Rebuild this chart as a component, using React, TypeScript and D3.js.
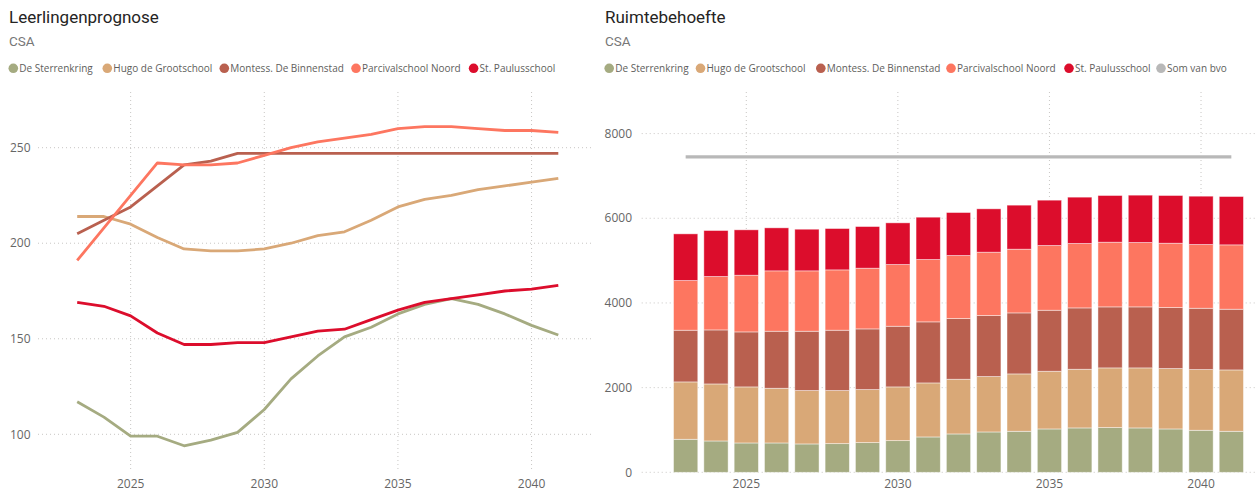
import React from "react";
import * as d3 from "d3";

const years = [2023, 2024, 2025, 2026, 2027, 2028, 2029, 2030, 2031, 2032, 2033, 2034, 2035, 2036, 2037, 2038, 2039, 2040, 2041];
const schools = ["De Sterrenkring", "Hugo de Grootschool", "Montess. De Binnenstad", "Parcivalschool Noord", "St. Paulusschool"];
const colors = ["#A5AB81", "#D9A877", "#B9604F", "#FD7660", "#DC0D2C"];
const bvoLabel = "Som van bvo";
const bvoColor = "#B8B8B8";

// Leerlingenprognose (students)
const lSterrenkring = [117, 109, 99, 99, 94, 97, 101, 113, 129, 141, 151, 156, 163, 168, 171, 168, 163, 157, 152];
const lHugo = [214, 214, 210, 203, 197, 196, 196, 197, 200, 204, 206, 212, 219, 223, 225, 228, 230, 232, 234];
const lMontess = [205, 212, 219, 230, 241, 243, 247, 247, 247, 247, 247, 247, 247, 247, 247, 247, 247, 247, 247];
const lParcival = [191, 208, 225, 242, 241, 241, 242, 246, 250, 253, 255, 257, 260, 261, 261, 260, 259, 259, 258];
const lPaulus = [169, 167, 162, 153, 147, 147, 148, 148, 151, 154, 155, 160, 165, 169, 171, 173, 175, 176, 178];

// Ruimtebehoefte (space need)
const rSterrenkring = [780, 740, 693, 693, 670, 677, 701, 748, 835, 906, 953, 969, 1024, 1048, 1056, 1048, 1024, 993, 969];
const rHugo = [1355, 1347, 1324, 1292, 1260, 1253, 1252, 1269, 1276, 1292, 1308, 1355, 1363, 1386, 1410, 1418, 1426, 1433, 1449];
const rMontess = [1221, 1276, 1299, 1347, 1402, 1426, 1434, 1433, 1442, 1433, 1441, 1441, 1441, 1449, 1441, 1441, 1441, 1449, 1434];
const rParcival = [1173, 1261, 1339, 1426, 1426, 1425, 1434, 1457, 1472, 1489, 1497, 1505, 1528, 1521, 1528, 1520, 1520, 1505, 1520];
const rPaulus = [1103, 1087, 1072, 1016, 984, 977, 984, 985, 1001, 1016, 1024, 1040, 1072, 1095, 1103, 1119, 1127, 1142, 1142];
const bvo = [7450, 7450, 7450, 7450, 7450, 7450, 7450, 7450, 7450, 7450, 7450, 7450, 7450, 7450, 7450, 7450, 7450, 7450, 7450];

const leftTicksY = [100, 150, 200, 250];
const rightTicksY = [0, 2000, 4000, 6000, 8000];
const ticksX = [2025, 2030, 2035, 2040];

const FONT = "'Open Sans', 'Noto Sans', sans-serif";
const TITLE_FONT = "Roboto, 'Noto Sans', sans-serif";
const GRID = "#C8C6C4";
const LABEL = "#666666";

function Legend({ x0s, labels, cols, y }: { x0s: number[]; labels: string[]; cols: string[]; y: number }) {
  return (
    <g>
      {labels.map((l, i) => (
        <g key={l}>
          <circle cx={x0s[i]} cy={y} r={4.8} fill={cols[i]} />
          <text x={x0s[i] + 6} y={y} dy="0.35em" fontSize={10} fontFamily={FONT} fill="#605E5C">
            {l}
          </text>
        </g>
      ))}
    </g>
  );
}

export default function App() {
  const W = 1257;
  const H = 493;

  // Left chart scales
  const xL = d3.scaleLinear().domain([2023, 2041]).range([77.2, 558.3]);
  const yL = d3.scaleLinear().domain([100, 250]).range([434.3, 147.7]);
  const lineSeries = [lSterrenkring, lHugo, lMontess, lParcival, lPaulus];
  const line = d3
    .line<number>()
    .x((_, i) => xL(years[i]))
    .y((d) => yL(d))
    .curve(d3.curveLinear);

  // Right chart scales
  const xR = d3.scaleBand<number>().domain(years).range([670.5, 1246.5]).paddingInner(0.2).paddingOuter(0.1);
  const yR = d3.scaleLinear().domain([0, 8000]).range([472.3, 133.6]);
  const rows = years.map((yr, i) => ({
    year: yr,
    s0: rSterrenkring[i],
    s1: rHugo[i],
    s2: rMontess[i],
    s3: rParcival[i],
    s4: rPaulus[i],
  }));
  const stacked = d3.stack<any>().keys(["s0", "s1", "s2", "s3", "s4"])(rows);
  const bvoLine = d3
    .line<number>()
    .x((_, i) => (xR(years[i]) as number) + xR.bandwidth() / 2)
    .y((d) => yR(d));

  const gridTop = 92;

  return (
    <svg width={W} height={H} style={{ position: "absolute", left: 0, top: 0, background: "#fff" }}>
      {/* Left panel header */}
      <text x={9} y={17.5} dy="0.35em" fontSize={17} fontFamily={TITLE_FONT} fill="#252423">
        Leerlingenprognose
      </text>
      <text x={9} y={41.5} dy="0.35em" fontSize={13.5} fontFamily={TITLE_FONT} fill="#777">
        CSA
      </text>
      <Legend x0s={[13.3, 107.3, 224.3, 356, 473.6]} labels={schools} cols={colors} y={68.3} />

      {/* Left gridlines */}
      {leftTicksY.map((t) => (
        <line key={"lgy" + t} x1={38} x2={594} y1={yL(t)} y2={yL(t)} stroke={GRID} strokeDasharray="1 3" />
      ))}
      {ticksX.map((t) => (
        <line key={"lgx" + t} x1={xL(t)} x2={xL(t)} y1={gridTop} y2={472} stroke={GRID} strokeDasharray="1 3" />
      ))}
      {leftTicksY.map((t) => (
        <text key={"lty" + t} x={30.5} y={yL(t)} dy="0.35em" textAnchor="end" fontSize={12} fontFamily={FONT} fill={LABEL}>
          {t}
        </text>
      ))}
      {ticksX.map((t) => (
        <text key={"ltx" + t} x={xL(t)} y={483.5} dy="0.35em" textAnchor="middle" fontSize={12} fontFamily={FONT} fill={LABEL}>
          {t}
        </text>
      ))}
      {lineSeries.map((s, i) => (
        <path key={"ls" + i} d={line(s) || ""} fill="none" stroke={colors[i]} strokeWidth={2.8} strokeLinejoin="round" />
      ))}

      {/* Right panel header */}
      <text x={605} y={17.5} dy="0.35em" fontSize={17} fontFamily={TITLE_FONT} fill="#252423">
        Ruimtebehoefte
      </text>
      <text x={605} y={41.5} dy="0.35em" fontSize={13.5} fontFamily={TITLE_FONT} fill="#777">
        CSA
      </text>
      <Legend
        x0s={[609.2, 700.5, 820.8, 951, 1069, 1161]}
        labels={[...schools, bvoLabel]}
        cols={[...colors, bvoColor]}
        y={68.3}
      />

      {/* Right gridlines */}
      {rightTicksY.map((t) => (
        <line key={"rgy" + t} x1={641.7} x2={1257} y1={yR(t)} y2={yR(t)} stroke={GRID} strokeDasharray="1 3" />
      ))}
      {ticksX.map((t) => {
        const cx = (xR(t) as number) + xR.bandwidth() / 2;
        return <line key={"rgx" + t} x1={cx} x2={cx} y1={gridTop} y2={472} stroke={GRID} strokeDasharray="1 3" />;
      })}
      {rightTicksY.map((t) => (
        <text key={"rty" + t} x={632} y={yR(t)} dy="0.35em" textAnchor="end" fontSize={12} fontFamily={FONT} fill={LABEL}>
          {t}
        </text>
      ))}
      {ticksX.map((t) => (
        <text
          key={"rtx" + t}
          x={(xR(t) as number) + xR.bandwidth() / 2}
          y={483.5}
          dy="0.35em"
          textAnchor="middle"
          fontSize={12}
          fontFamily={FONT}
          fill={LABEL}
        >
          {t}
        </text>
      ))}
      {stacked.map((layer, li) => (
        <g key={"layer" + li} fill={colors[li]}>
          {layer.map((d: any, i: number) => (
            <rect
              key={i}
              x={xR(years[i]) as number}
              y={yR(d[1])}
              width={xR.bandwidth()}
              height={yR(d[0]) - yR(d[1])}
              stroke="rgba(255,255,255,0.55)"
              strokeWidth={0.8}
            />
          ))}
        </g>
      ))}
      <path d={bvoLine(bvo) || ""} fill="none" stroke={bvoColor} strokeWidth={3.2} />
    </svg>
  );
}
